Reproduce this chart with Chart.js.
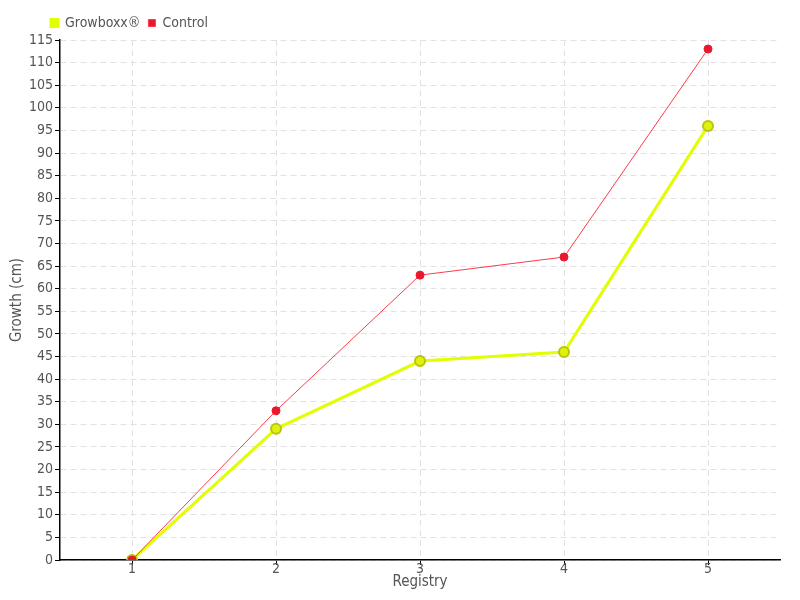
<!DOCTYPE html>
<html>
<head>
<meta charset="utf-8">
<script src="https://cdn.jsdelivr.net/npm/chart.js@4/dist/chart.umd.min.js"></script>
<style>
    body { margin: 0; background: #fff; }
    #wrap { width: 800px; height: 600px; }
</style>
</head>
<body>
<div id="wrap"><canvas id="growthChart" width="800" height="600"></canvas></div>
<script>
const registries = ["1", "2", "3", "4", "5"];
const growboxxValues = [0, 29, 44, 46, 96];
const controlValues = [0, 33, 63, 67, 113];
const yMax = 115;
const yStep = 5;

const fontFamily = "'Liberation Sans Narrow', 'DejaVu Sans Condensed', sans-serif";
const textColor = "#555";

// nudge the legend to line up with the y axis labels
const legendShift = {
    id: "legendShift",
    afterLayout(chart) {
        chart.legend.left += 33;
    }
};

let ctx = document.getElementById("growthChart").getContext("2d");

new Chart(ctx, {
    type: "line",
    data: {
        labels: registries,
        datasets: [
            {
                label: "Growboxx®",
                data: growboxxValues,
                borderColor: "#e2ff00",
                backgroundColor: "#e2ff00",
                borderWidth: 3,
                pointRadius: 5,
                pointBackgroundColor: "#e0f010",
                pointBorderColor: "#b8c800",
                pointBorderWidth: 2,
                tension: 0,
                order: 1
            },
            {
                label: "Control",
                data: controlValues,
                borderColor: "#ff3a4a",
                backgroundColor: "#e8192c",
                borderWidth: 1,
                pointRadius: 4,
                pointBackgroundColor: "#e8192c",
                pointBorderColor: "#e8192c",
                pointBorderWidth: 1,
                tension: 0,
                order: 0
            }
        ]
    },
    plugins: [legendShift],
    options: {
        responsive: false,
        animation: false,
        layout: { padding: { left: 10, right: 20, top: 8, bottom: 10 } },
        plugins: {
            tooltip: { enabled: false },
            legend: {
                position: "top",
                align: "start",
                labels: {
                    boxWidth: 7,
                    boxHeight: 7,
                    padding: 8,
                    color: textColor,
                    font: { family: fontFamily, size: 14 },
                    sort: (a, b) => a.datasetIndex - b.datasetIndex
                }
            }
        },
        scales: {
            x: {
                offset: true,
                grid: {
                    offset: false,
                    color: "#e2e2e2",
                    tickColor: "#000",
                    tickBorderDash: [],
                    tickLength: 5
                },
                border: { color: "#000", width: 1.5, dash: [6, 4] },
                ticks: { color: textColor, font: { family: fontFamily, size: 14, lineHeight: 1 }, padding: -3 },
                title: {
                    display: true,
                    text: "Registry",
                    color: textColor,
                    font: { family: fontFamily, size: 15, lineHeight: 1 },
                    padding: { top: 2, bottom: 0 }
                }
            },
            y: {
                min: 0,
                max: yMax,
                grid: {
                    color: "#e2e2e2",
                    tickColor: "#000",
                    tickBorderDash: [],
                    tickLength: 5
                },
                border: { color: "#000", width: 1.5, dash: [6, 4] },
                ticks: {
                    stepSize: yStep,
                    color: textColor,
                    font: { family: fontFamily, size: 14 },
                    padding: 2
                },
                title: {
                    display: true,
                    text: "Growth (cm)",
                    color: textColor,
                    font: { family: fontFamily, size: 15, lineHeight: 1 },
                    padding: { top: 0, bottom: 2 }
                }
            }
        }
    }
});
</script>
</body>
</html>
